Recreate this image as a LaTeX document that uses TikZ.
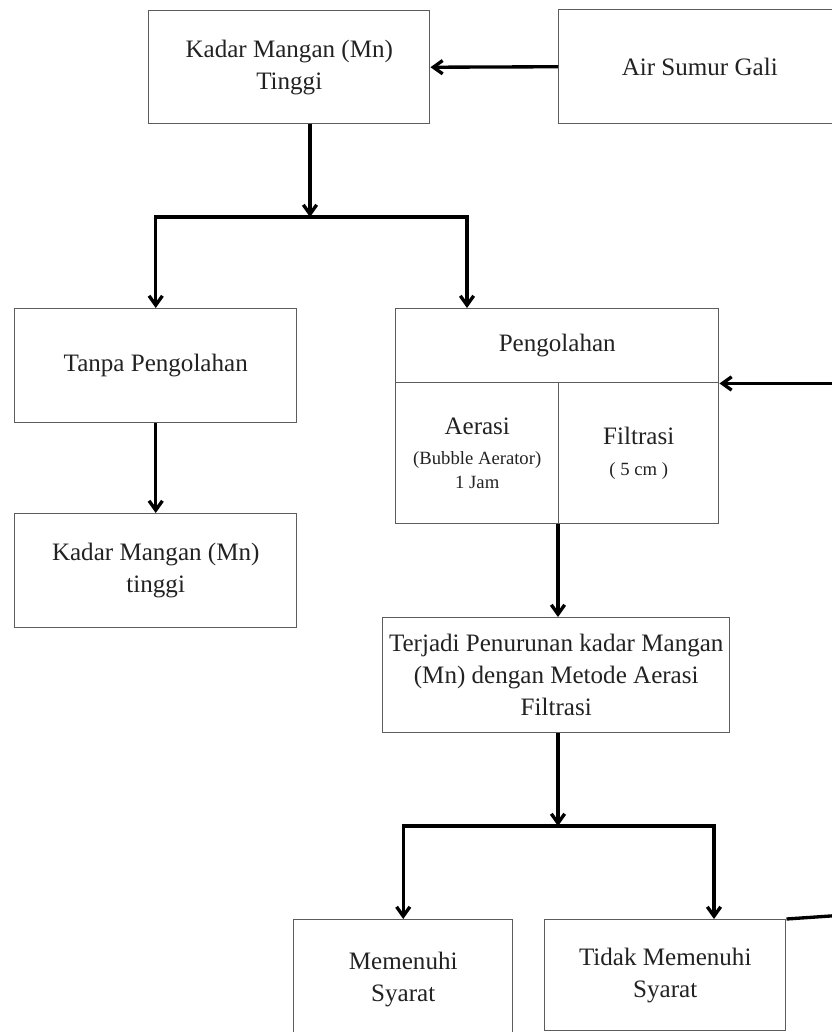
\documentclass[tikz,border=0pt]{standalone}
\usepackage{fontspec}
\setmainfont{Liberation Serif}
\usetikzlibrary{arrows.meta,positioning,calc}
\definecolor{garisabu}{HTML}{5C5C5C}
\definecolor{teksgelap}{HTML}{222222}
\newcommand\hurufkecil{\fontsize{14}{19}\selectfont}
\tikzset{
  kotak/.style={draw=garisabu, line width=1.1pt, inner sep=0pt, align=center,
    font=\fontsize{18.8}{24}\selectfont, text=teksgelap, anchor=north west},
  panah/.style={-{Straight Barb[length=7pt,width=10pt]}, line width=2.5pt, color=black},
  garis/.style={line width=2.5pt, color=black},
}
\begin{document}
\begin{tikzpicture}[x=0.75pt,y=-0.75pt]
  \useasboundingbox (0,0) rectangle (832,1032);
  \clip (0,0) rectangle (832,1032);
  % kotak atas
  \node[kotak, minimum width=210.75pt, minimum height=84.75pt] (kadar) at (148,10) {Kadar Mangan (Mn)\\Tinggi};
  \node[kotak, minimum width=211.5pt, minimum height=85.5pt] (sumur) at (558,9) {Air Sumur Gali};
  % cabang kiri
  \node[kotak, minimum width=211.5pt, minimum height=85.5pt] (tanpa) at (14,308) {Tanpa Pengolahan};
  \node[kotak, minimum width=211.5pt, minimum height=85.5pt] (tetap) at (14,513) {Kadar Mangan (Mn)\\tinggi};
  % pengolahan
  \node[kotak, minimum width=242.25pt, minimum height=55.5pt] (olah) at (395,308) {Pengolahan};
  \node[kotak, minimum width=122.25pt, minimum height=105.75pt] (aerasi) at (395,382)
    {Aerasi\\[-2pt]{\hurufkecil (Bubble Aerator)}\\[-6pt]{\hurufkecil 1 Jam}};
  \node[kotak, minimum width=120pt, minimum height=105.75pt] (filtrasi) at (558,382)
    {Filtrasi\\[-1pt]{\hurufkecil ( 5 cm )}};
  \node[kotak, minimum width=260.25pt, minimum height=86.25pt] (turun) at (382,617)
    {Terjadi Penurunan kadar Mangan\\(Mn) dengan Metode Aerasi\\Filtrasi};
  % hasil
  \node[kotak, minimum width=164.25pt, minimum height=90pt] (memenuhi) at (293,919) {Memenuhi\\Syarat};
  \node[kotak, minimum width=180.75pt, minimum height=83.25pt] (tidak) at (544,919) {Tidak Memenuhi\\Syarat};
  % titik bantu
  \coordinate (cabang1) at (310,217);
  \coordinate (kanan1) at (467,217);
  \coordinate (cabang2) at (558,826);
  \coordinate (kanan2) at (714,826);
  \coordinate (balik) at ($(olah.south east)+(130,0)$);
  \coordinate (keluar) at (845,915);
  % panah
  \draw[panah] (sumur.west) -- (kadar.east);
  \draw[panah] (kadar.south -| cabang1) -- (cabang1);
  \draw[panah] (cabang1) -| (tanpa.north);
  \draw[panah] (cabang1) -| (kanan1 |- olah.north);
  \draw[panah] (tanpa.south) -- (tetap.north);
  \draw[panah] (balik) -- (olah.south east);
  \draw[panah] (filtrasi.south west) -- (filtrasi.south west |- turun.north);
  \draw[panah] (turun.south -| cabang2) -- (cabang2);
  \draw[panah] (cabang2) -| (memenuhi.north);
  \draw[panah] (cabang2) -| (kanan2 |- tidak.north);
  \draw[garis] (tidak.north east) -- (keluar);
\end{tikzpicture}
\end{document}
